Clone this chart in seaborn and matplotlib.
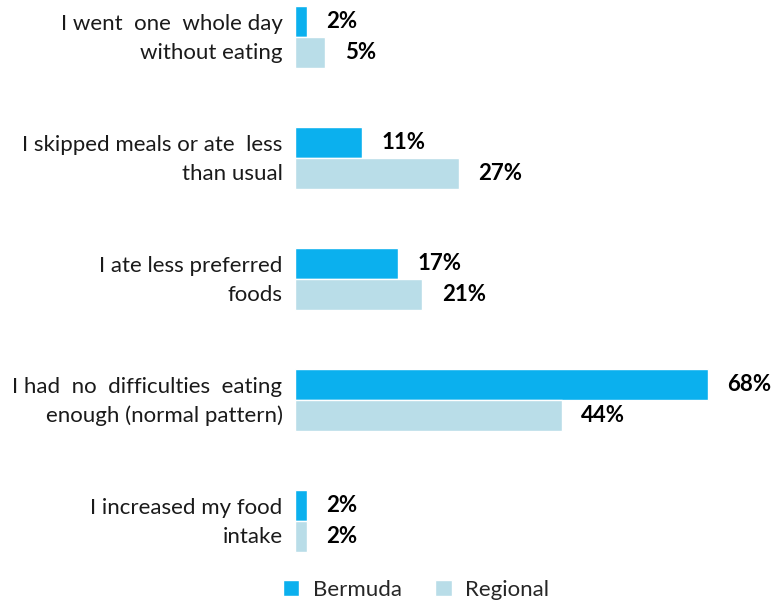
import matplotlib
matplotlib.use("Agg")
import matplotlib.pyplot as plt
import matplotlib.transforms as mtransforms
import seaborn as sns
import pandas as pd
from matplotlib.patches import Patch

categories = [
    "I went  one  whole day\nwithout eating",
    "I skipped meals or ate  less\nthan usual",
    "I ate less preferred\nfoods",
    "I had  no  difficulties  eating\nenough (normal pattern)",
    "I increased my food\nintake",
]
series_names = ["Bermuda", "Regional"]
bermuda = [2, 11, 17, 68, 2]
regional = [5, 27, 21, 44, 2]
colors = {"Bermuda": "#0BB0EE", "Regional": "#B9DDE8"}

df = pd.DataFrame({
    "category": categories * 2,
    "series": [series_names[0]] * len(categories) + [series_names[1]] * len(categories),
    "value": bermuda + regional,
})

sns.set_theme(style="white")
plt.rcParams["font.family"] = ["Lato", "DejaVu Sans"]

fig = plt.figure(figsize=(7.8, 6.05), dpi=100)
ax = fig.add_axes([295 / 780, 45 / 605, 475 / 780, 560 / 605])

sns.barplot(data=df, y="category", x="value", hue="series", orient="h",
            order=categories, hue_order=series_names, palette=colors,
            width=0.52, saturation=1, ax=ax, legend=False, errorbar=None)

ax.set_xlim(0, 78.3)
ax.set_ylim(4.322, -0.306)
ax.set_xlabel("")
ax.set_ylabel("")
ax.set_xticks([])
for s in ax.spines.values():
    s.set_visible(False)
ax.tick_params(axis="y", length=0, pad=9, labelsize=16, labelcolor="#1a1a1a")
lift = mtransforms.ScaledTranslation(0, 5 / 100, fig.dpi_scale_trans)
for t in ax.get_yticklabels():
    t.set_horizontalalignment("right")
    t.set_multialignment("right")
    t.set_linespacing(1.55)
    t.set_transform(t.get_transform() + lift)

for container in ax.containers:
    ax.bar_label(container, labels=[f"{v:.0f}%" for v in container.datavalues],
                 padding=14, fontsize=16, fontweight="bold", color="black")

handles = [Patch(facecolor=colors[n], label=n) for n in series_names]
fig.legend(handles=handles, loc="lower center", bbox_to_anchor=(0.533, -0.024),
           ncol=2, frameon=False, fontsize=16, handlelength=0.75, handleheight=0.75,
           columnspacing=1.5, handletextpad=0.6)

fig.savefig("out.png", dpi=100)
